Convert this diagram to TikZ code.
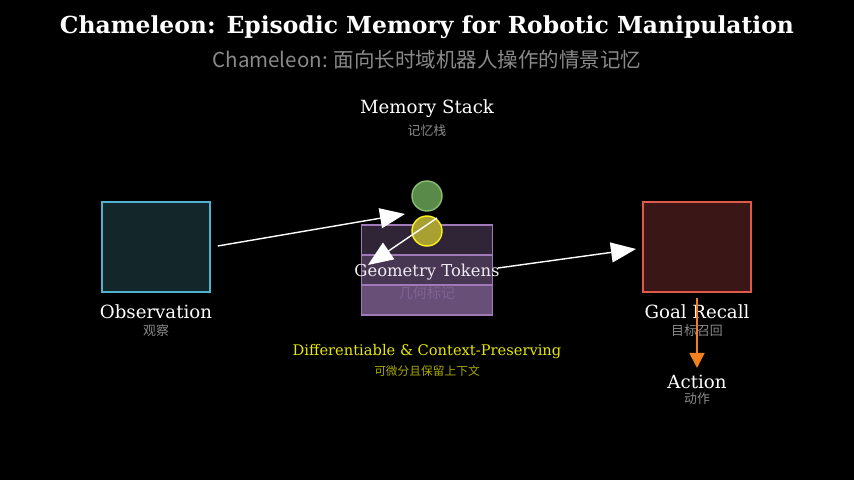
\documentclass[tikz,border=0pt]{standalone}
\usepackage{fontspec}
\setmainfont{DejaVu Serif}
\newfontfamily\cjk{Noto Sans CJK SC}
\usetikzlibrary{positioning, arrows.meta}
\definecolor{obsfill}{HTML}{13272B}
\definecolor{obsdraw}{HTML}{4FB3D0}
\definecolor{goalfill}{HTML}{3A1616}
\definecolor{goaldraw}{HTML}{E05A4A}
\definecolor{stackdraw}{HTML}{A07AB8}
\definecolor{subgray}{HTML}{8A8A8A}
\definecolor{capyellow}{HTML}{E8E800}
\definecolor{capdim}{HTML}{A8A800}
\definecolor{actorange}{HTML}{F08020}
\definecolor{tokgreenfill}{HTML}{5A8A4A}
\definecolor{tokgreendraw}{HTML}{8AC070}
\definecolor{tokyellowfill}{HTML}{A8A030}
\tikzset{
  box/.style={rectangle, minimum width=3.25cm, minimum height=2.7cm, line width=1.5pt},
  layer/.style={rectangle, draw=stackdraw, line width=1.2pt, minimum width=3.93cm, minimum height=0.9cm, inner sep=0pt},
  token/.style={circle, minimum size=0.9cm, line width=1.2pt, inner sep=0pt},
  label/.style={text=white, font=\fontsize{15.5}{15.5}\selectfont, inner sep=1pt},
  sublabel/.style={text=subgray, font=\cjk\fontsize{11}{11}\selectfont, inner sep=1pt},
  arrow/.style={white, line width=1.2pt, -{Triangle[length=0.75cm, width=0.6cm]}},
}
\begin{document}
\begin{tikzpicture}[x=0.03cm, y=-0.03cm]
  \fill[black] (0,0) rectangle (854,480);
  \useasboundingbox (0,0) rectangle (854,480);

  % Title
  \node (title) [text=white, font=\bfseries\fontsize{20}{20}\selectfont] at (427,27) {Chameleon: Episodic Memory for Robotic Manipulation};
  \node (subtitle) [text=subgray, font=\cjk\fontsize{17.5}{17.5}\selectfont] at (427,60) {Chameleon: 面向长时域机器人操作的情景记忆};

  % Observation
  \node (obs) [box, fill=obsfill, draw=obsdraw] at (156,247) {};
  \node (obslabel) [label] at (156,312) {Observation};
  \node (obssub) [sublabel] at (156,331) {观察};

  % Memory stack
  \node (stacklabel) [label] at (427,109) {Memory Stack};
  \node (stacksub) [sublabel] at (427,131) {记忆栈};
  \node (layer1) [layer, fill=stackdraw!30!black] at (427,240) {};
  \node (layer2) [layer, fill=stackdraw!45!black] at (427,270) {};
  \node (layer3) [layer, fill=stackdraw!65!black] at (427,300) {};
  \node (tokengreen) [token, fill=tokgreenfill, draw=tokgreendraw] at (427,196) {};
  \node (tokenyellow) [token, fill=tokyellowfill, draw=yellow!90!white] at (427,231) {};
  \node (geolabel) [text=white!85!stackdraw, font=\fontsize{14}{14}\selectfont, inner sep=1pt] at (427,272) {Geometry Tokens};
  \node (geosub) [text=stackdraw!80!black, font=\cjk\fontsize{12}{12}\selectfont, inner sep=1pt] at (427,293) {几何标记};

  % Goal recall
  \node (goal) [box, fill=goalfill, draw=goaldraw] at (697,247) {};
  \node (goallabel) [label] at (697,312) {Goal Recall};
  \node (goalsub) [sublabel] at (697,331) {目标召回};

  % Action
  \node (act) [label] at (697,382) {Action};
  \node (actsub) [sublabel] at (697,399) {动作};

  % Caption
  \node (cap) [text=capyellow, font=\fontsize{12.5}{12.5}\selectfont] at (427,352) {Differentiable \& Context-Preserving};
  \node (capsub) [text=capdim, font=\cjk\fontsize{10}{10}\selectfont] at (427,371) {可微分且保留上下文};

  % Arrows
  \coordinate (writein) at (405,214);
  \coordinate (readstart) at (437,218);
  \coordinate (readend) at (368,265);
  \coordinate (stackout) at (498,268);
  \coordinate (goalin) at (636,249);
  \coordinate (goalout) at (697,298);
  \coordinate (actin) at (697,368);
  \draw [arrow] ([xshift=0.2cm]obs.east |- 0,246) -- (writein);
  \draw [arrow] (readstart) -- (readend);
  \draw [arrow] (stackout) -- (goalin);
  \draw [actorange, line width=1.5pt, -{Triangle[length=0.45cm, width=0.45cm]}] (goalout) -- (actin);
\end{tikzpicture}
\end{document}
